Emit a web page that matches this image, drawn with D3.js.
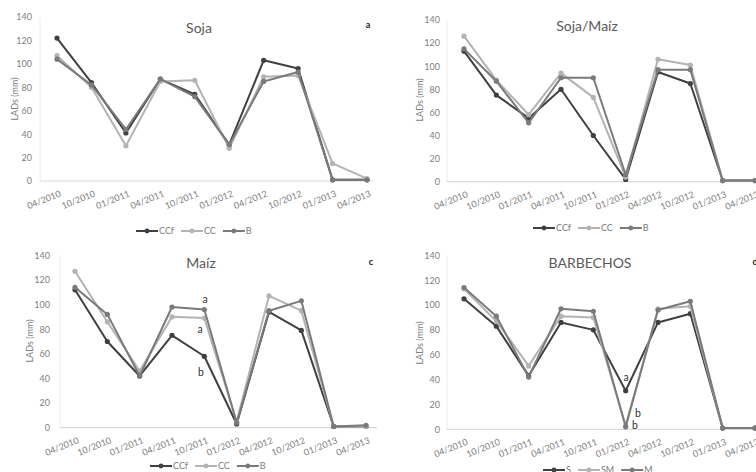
<!DOCTYPE html>
<html><head><meta charset="utf-8">
<script src="https://cdn.jsdelivr.net/npm/d3@7"></script>
<style>body{margin:0;background:#fff}svg{display:block}text{font-family:Lato,"Open Sans",sans-serif}</style>
</head><body>
<svg id="c" width="756" height="472"></svg>
<script>
const categories = ["04/2010","10/2010","01/2011","04/2011","10/2011","01/2012","04/2012","10/2012","01/2013","04/2013"];
const yTicks = [0,20,40,60,80,100,120,140];

// Panel a: Soja
const sojaCCf = [122,84,41,87,74,31,103,96,1,1];
const sojaCC  = [107,80,30,85,86,28,89,90,15,2];
const sojaB   = [104,82,44,87,72,31,85,93,1,1];
// Panel b: Soja/Maíz
const smCCf = [113,75,55,80,40,2,95,85,1,1];
const smCC  = [126,88,58,94,73,4,106,101,1,1];
const smB   = [115,87,51,90,90,6,97,97,1,1];
// Panel c: Maíz
const maizCCf = [112,70,42,75,58,3,94,79,1,1];
const maizCC  = [127,86,46,90,89,5,107,95,1,1];
const maizB   = [114,92,42,98,96,4,95,103,1,2];
// Panel d: BARBECHOS
const barS  = [105,83,43,86,80,31,86,93,1,1];
const barSM = [113,87,51,91,90,3,97,99,1,1];
const barM  = [114,91,42,97,95,2,96,103,1,1];

const titles = ["Soja","Soja/Maíz","Maíz","BARBECHOS"];
const seriesNamesA = ["CCf","CC","B"];
const seriesNamesD = ["S","SM","M"];

const colors = ["#404040","#b3b3b3","#7a7a7a"];

const panels = [
  {title:titles[0], names:seriesNamesA, data:[sojaCCf,sojaCC,sojaB],
   ax0:40, ax1:373, c0:57, c1:367, yTop:17, yBot:181, tickR:32, ylabX:15, ylabY:99,
   tx:199, ty:33, letter:"a", lx:368, ly:28, legX:136, legY:231, notes:[]},
  {title:titles[1], names:seriesNamesA, data:[smCCf,smCC,smB],
   ax0:447, ax1:756, c0:464, c1:755, yTop:20, yBot:181.7, tickR:440, ylabX:420, ylabY:100,
   tx:587, ty:31, letter:"", lx:770, ly:28, legX:533, legY:228, notes:[]},
  {title:titles[2], names:seriesNamesA, data:[maizCCf,maizCC,maizB],
   ax0:60, ax1:377, c0:75, c1:366, yTop:255.3, yBot:427.7, tickR:50, ylabX:30, ylabY:341,
   tx:201, ty:268, letter:"c", lx:371, ly:265,
   legX:150, legY:466, notes:[{t:"a",x:205,y:303},{t:"a",x:200,y:333},{t:"b",x:201,y:376}]},
  {title:titles[3], names:seriesNamesD, data:[barS,barSM,barM],
   ax0:447, ax1:756, c0:464, c1:755, yTop:255.3, yBot:429.3, tickR:440, ylabX:420, ylabY:343,
   tx:590, ty:268, letter:"d", lx:755, ly:265,
   legX:543, legY:470, notes:[{t:"a",x:626,y:381},{t:"b",x:638,y:417},{t:"b",x:635,y:429}]}
];

const svg = d3.select("#c");

panels.forEach(p => {
  const g = svg.append("g");
  const x = d3.scalePoint().domain(categories).range([p.c0, p.c1]);
  const y = d3.scaleLinear().domain([0,140]).range([p.yBot, p.yTop]);

  g.append("line").attr("x1",p.ax0).attr("x2",p.ax0).attr("y1",p.yTop).attr("y2",p.yBot)
    .attr("stroke","#ececec").attr("stroke-width",1);
  g.append("line").attr("x1",p.ax0).attr("x2",p.ax1).attr("y1",p.yBot).attr("y2",p.yBot)
    .attr("stroke","#d9d9d9").attr("stroke-width",1.2);

  const ya = d3.axisLeft(y).tickValues(yTicks).tickSize(0).tickPadding(0);
  const yg = g.append("g").attr("transform",`translate(${p.tickR},0)`).call(ya);
  yg.select(".domain").remove();
  yg.selectAll("text").attr("fill","#808080").style("font-size","9px").style("font-family","Lato,sans-serif");

  const xa = d3.axisBottom(x).tickSize(0);
  const xg = g.append("g").attr("transform",`translate(0,${p.yBot})`).call(xa);
  xg.select(".domain").remove();
  xg.selectAll("text")
    .attr("fill","#808080").style("font-size","9px").style("font-family","Lato,sans-serif")
    .attr("text-anchor","end").attr("dy",null).attr("y",0)
    .attr("transform","translate(4,15) rotate(-22)");

  g.append("text").attr("transform",`translate(${p.ylabX},${p.ylabY}) rotate(-90)`)
    .attr("text-anchor","middle").attr("dy","0.35em").attr("fill","#808080")
    .style("font-size","9px").text("LADs (mm)");

  g.append("text").attr("x",p.tx).attr("y",p.ty).attr("text-anchor","middle")
    .attr("fill","#595959").style("font-size","14px").text(p.title);
  if (p.letter) {
    g.append("text").attr("x",p.lx).attr("y",p.ly).attr("text-anchor","middle")
      .attr("fill","#222").style("font-size","9px").style("font-weight","bold").text(p.letter);
  }

  const line = d3.line().x((d,i)=>x(categories[i])).y(d=>y(d));
  p.data.forEach((vals, si) => {
    g.append("path").datum(vals).attr("d",line).attr("fill","none")
      .attr("stroke",colors[si]).attr("stroke-width",2).attr("stroke-linejoin","round");
    g.selectAll(null).data(vals).enter().append("circle")
      .attr("cx",(d,i)=>x(categories[i])).attr("cy",d=>y(d)).attr("r",2.6)
      .attr("fill",colors[si]);
  });

  p.notes.forEach(n => {
    g.append("text").attr("x",n.x).attr("y",n.y).attr("text-anchor","middle")
      .attr("fill","#333333").style("font-size","10.5px").text(n.t);
  });

  let lx = p.legX;
  p.names.forEach((nm, si) => {
    g.append("line").attr("x1",lx).attr("x2",lx+22).attr("y1",p.legY).attr("y2",p.legY)
      .attr("stroke",colors[si]).attr("stroke-width",2);
    g.append("circle").attr("cx",lx+11).attr("cy",p.legY).attr("r",2.4).attr("fill",colors[si]);
    const t = g.append("text").attr("x",lx+23).attr("y",p.legY).attr("dy","0.35em")
      .attr("fill","#7a7a7a").style("font-size","9px").text(nm);
    lx += 23 + t.node().getComputedTextLength() + 7;
  });
});
</script>
</body></html>
